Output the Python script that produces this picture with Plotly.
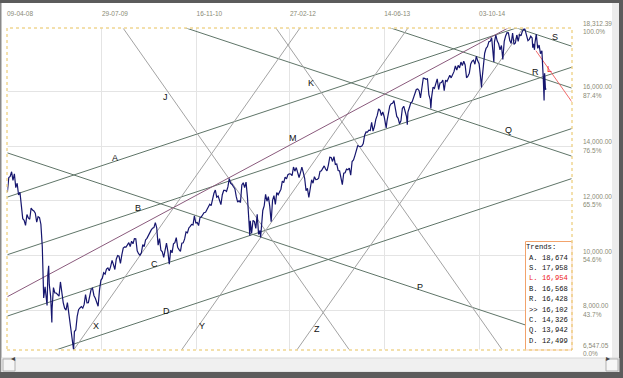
import plotly.graph_objects as go
import pandas as pd

# ---------------- data (Dow Jones closes) ----------------
block_starts = ['2008-04-11', '2009-01-02', '2010-01-01', '2011-01-07',
                '2012-01-06', '2013-01-04', '2014-01-03', '2015-01-02']
close_2008 = [12325, 12849, 12891, 13058, 12745, 12986, 12480, 12638, 12210, 12308, 11843, 11346,
              11288, 11100, 11496, 11370, 11326, 11734, 11659, 11628, 11543, 11220, 11421, 11388,
              11143, 10325, 8451, 8852, 8378, 9325, 8943, 8497, 8046, 8829, 8635, 8629, 8579, 8515]
close_2009 = [9034, 8599, 8281, 8077, 8001, 8280, 7850, 7366, 7063, 6627, 7224, 7279, 7776,
              8018, 8083, 8131, 8076, 8212, 8575, 8268, 8277, 8500, 8764, 8799, 8539, 8438,
              8280, 8146, 8743, 9093, 9171, 9370, 9321, 9505, 9544, 9441, 9605, 9820, 9665,
              9487, 9865, 9996, 9972, 9712, 10023, 10270, 10318, 10309, 10388, 10471, 10329, 10520]
close_2010 = [10428, 10618, 10610, 10172, 10067, 10012, 10099, 10402, 10325, 10567, 10625, 10742,
              10851, 10927, 10997, 11019, 11204, 11009, 10380, 10620, 10193, 10137, 9932, 10212,
              10450, 10144, 9686, 10198, 10098, 10424, 10466, 10653, 10303, 10214, 10150, 10448,
              10462, 10607, 10860, 10829, 11006, 11063, 11133, 11118, 11445, 11193, 11204, 11092,
              11382, 11410, 11492, 11573, 11578]
close_2011 = [11675, 11787, 11872, 11824, 12092, 12273, 12391, 12130, 12170, 12044, 11859, 12221,
              12377, 12380, 12342, 12506, 12811, 12638, 12596, 12512, 12441, 12151, 11952, 12004,
              11934, 12582, 12658, 12480, 12681, 12143, 11445, 11269, 10817, 11285, 11240, 10993,
              11509, 10772, 10913, 11103, 11645, 11809, 12231, 11983, 12153, 11796, 11231, 12019,
              12184, 11867, 12295, 12218]
close_2012 = [12360, 12422, 12720, 12660, 12862, 12801, 12950, 12983, 12978, 12922, 13233, 13081,
              13212, 13060, 12850, 13029, 13228, 13038, 12821, 12369, 12454, 12119, 12554, 12767,
              12640, 12880, 12772, 12777, 12822, 13075, 13096, 13207, 13275, 13158, 13090, 13306,
              13593, 13579, 13437, 13610, 13328, 13343, 13107, 13093, 12815, 12588, 13010, 13025,
              13155, 13135, 13190, 12938]
close_2013 = [13435, 13488, 13650, 13896, 14010, 13993, 13982, 14000, 14090, 14397, 14515, 14512,
              14579, 14565, 14865, 14547, 14712, 14974, 15118, 15354, 15303, 15116, 15248, 15071,
              14800, 14910, 15136, 15465, 15544, 15559, 15659, 15425, 15081, 15010, 14810, 14922,
              15376, 15452, 15258, 15073, 15237, 15400, 15570, 15615, 15762, 15962, 16065, 16086,
              16020, 15755, 16221, 16479]
close_2014 = [16470, 16437, 16458, 15880, 15699, 15794, 16154, 16104, 16322, 16453, 16065, 16303,
              16323, 16413, 16027, 16409, 16361, 16513, 16583, 16491, 16606, 16717, 16924, 16776,
              16948, 16852, 17068, 16944, 17100, 16961, 16493, 16554, 16663, 17001, 17098, 17138,
              16988, 17280, 17113, 17009, 16544, 16380, 16805, 17391, 17573, 17634, 17810, 17828,
              17958, 17281, 17805, 18053]
close_2015 = [17833, 17737, 17512, 17672, 17165, 17825, 18019, 18140, 18133, 17856, 17749, 18128,
              17713, 17763, 18057, 17826, 18080, 18024, 18191, 18272, 18232, 18011, 17849, 17899,
              18015, 17947, 17730, 17760, 18086, 17568, 17690, 17373, 17477, 16460, 16643, 16102]
extra_dates = ['2008-04-09', '2008-10-27', '2008-11-04', '2008-11-20', '2009-03-09',
               '2011-08-10', '2011-10-03', '2013-06-24', '2013-10-08', '2014-02-03',
               '2014-10-15', '2014-12-16', '2015-05-19', '2015-06-29', '2015-07-08',
               '2015-08-24', '2015-08-25', '2015-08-27', '2015-09-01']
extra_close = [12527, 8175, 9625, 7552, 6547.05,
               10719, 10655, 14660, 14776, 15373,
               16142, 17068, 18312.39, 17596, 17515,
               15871, 15666, 16654, 16058]

x_tick_dates = ['2008-04-09', '2009-07-29', '2010-11-16', '2012-02-27', '2013-06-14', '2014-10-03']
x_tick_labels = ['09-04-08', '29-07-09', '16-11-10', '27-02-12', '14-06-13', '03-10-14']
y_tick_values = [6547.05, 8000, 10000, 12000, 14000, 16000, 18312.39]
y_tick_percent = ['0.0%', '43.7%', '54.6%', '65.5%', '76.5%', '87.4%', '100.0%']

trend_names = ['A', 'S', 'L', 'B', 'R', '>>', 'C', 'Q', 'D']
trend_values = [18674, 17958, 16954, 16568, 16428, 16102, 14326, 13942, 12499]

# trend lines: anchor date, anchor value, change per calendar day, first date drawn
line_names = ['A', 'B', 'C', 'D', 'S', 'R', 'Q', 'P', 'L', 'J', 'K', 'X', 'Y', 'Z', 'M']
line_anchor_date = ['2015-09-04', '2015-09-04', '2015-09-04', '2015-09-04', '2015-09-04',
                    '2015-09-04', '2015-09-04', '2008-04-09', '2015-09-04', '2009-11-12',
                    '2011-12-19', '2009-03-09', '2011-10-03', '2014-10-15', '2008-04-09']
line_anchor_value = [18674, 16568, 14326, 12499, 17958, 16428, 13942, 13754, 16954, 18312,
                     18312, 6547.05, 10655, 16142, 8487]
line_slope = [2.42, 2.42, 2.42, 2.42, -2.42, -2.42, -2.42, -2.42, -10.36, -10.36,
              -10.36, 10.36, 10.36, 10.36, 3.91]
line_start = ['2008-04-09'] * 8 + ['2015-07-15'] + ['2008-04-09'] * 6

# label anchors (date, value) for the letters written on the chart
label_text = ['A', 'B', 'C', 'D', 'J', 'K', 'M', 'P', 'Q', 'R', 'S', 'L', 'X', 'Y', 'Z']
label_date = ['2009-10-03', '2010-01-27', '2010-04-21', '2010-06-19', '2010-06-14', '2012-06-10',
              '2012-03-12', '2013-12-11', '2015-02-27', '2015-07-15', '2015-10-19', '2015-09-19',
              '2009-06-28', '2010-12-15', '2012-07-10']
label_value = [13560, 11731, 9683, 7974, 15792, 16304, 14292, 8863, 14596, 16692, 17987, 16801,
               7437, 7437, 7316]

x_range = ['2008-04-09', '2016-01-12']
y_range = [6547.05, 18312.39]

# ---------------- build series ----------------
dates, closes = [], []
for start, vals in zip(block_starts, [close_2008, close_2009, close_2010, close_2011,
                                      close_2012, close_2013, close_2014, close_2015]):
    dates += list(pd.date_range(start, periods=len(vals), freq='7D'))
    closes += vals
dates += [pd.Timestamp(d) for d in extra_dates]
closes += extra_close
series = pd.Series(closes, index=dates).sort_index()
series = series[~series.index.duplicated(keep='last')]

# ---------------- styles ----------------
W, H = 623, 378
L_M, R_M, T_M, B_M = 7, 51, 28, 28
PW, PH = W - L_M - R_M, H - T_M - B_M
AXIS_FONT = dict(family='Liberation Sans Narrow, Arial Narrow, Liberation Sans, Arial', size=6.5,
                 color='#8a8a76')
CHANNEL = '#5f7568'
STEEP = '#a3a3a3'
line_color = {'A': CHANNEL, 'B': CHANNEL, 'C': CHANNEL, 'D': CHANNEL, 'S': CHANNEL, 'R': CHANNEL,
              'Q': CHANNEL, 'P': CHANNEL, 'L': '#f06a6a', 'J': STEEP, 'K': STEEP, 'X': STEEP,
              'Y': STEEP, 'Z': STEEP, 'M': '#8a5a7c'}


def px(x):
    return (x - L_M) / PW


def py(y):
    return (H - B_M - y) / PH


fig = go.Figure()

x_end = pd.Timestamp(x_range[1])
for name, ad, av, sl, st in zip(line_names, line_anchor_date, line_anchor_value, line_slope, line_start):
    ad = pd.Timestamp(ad)
    x0 = pd.Timestamp(st)
    ys = [av + sl * (x0 - ad).days, av + sl * (x_end - ad).days]
    fig.add_trace(go.Scatter(x=[x0, x_end], y=ys, mode='lines',
                             line=dict(color=line_color[name], width=1), hoverinfo='skip'))

fig.add_trace(go.Scatter(x=series.index, y=series.values, mode='lines',
                         line=dict(color='#16166e', width=1.2), hoverinfo='skip'))

for t, d, v in zip(label_text, label_date, label_value):
    fig.add_annotation(x=d, y=v, text=t, showarrow=False, xanchor='center', yanchor='middle',
                       font=dict(family='Liberation Sans, Arial', size=9,
                                 color='#ee3333' if t == 'L' else '#111111'))

shapes = []
# legend box
shapes.append(dict(type='rect', xref='paper', yref='paper', x0=px(525.5), x1=px(572), y0=py(350),
                   y1=py(241.5), line=dict(color='#f2a36c', width=1), fillcolor='white', layer='above'))
# plot border: white underlay then dotted yellow
for col, dash in [('white', 'solid'), ('#e8c15a', 'dot')]:
    shapes.append(dict(type='rect', xref='paper', yref='paper', x0=0, x1=1, y0=0, y1=1,
                       line=dict(color=col, width=1, dash=dash), layer='above'))
# window frame
shapes += [
    dict(type='rect', xref='paper', yref='paper', x0=px(0), x1=px(623), y0=py(0), y1=py(3),
         fillcolor='#5c5c5c', line=dict(width=0), layer='above'),
    dict(type='rect', xref='paper', yref='paper', x0=px(0), x1=px(1.5), y0=py(3), y1=py(372),
         fillcolor='#8a8a8a', line=dict(width=0), layer='above'),
    dict(type='rect', xref='paper', yref='paper', x0=px(612), x1=px(619), y0=py(3), y1=py(358),
         fillcolor='#ececec', line=dict(width=0), layer='above'),
    dict(type='rect', xref='paper', yref='paper', x0=px(619), x1=px(623), y0=py(0), y1=py(378),
         fillcolor='#5c5c5c', line=dict(width=0), layer='above'),
    dict(type='rect', xref='paper', yref='paper', x0=px(1.5), x1=px(619), y0=py(358), y1=py(372),
         fillcolor='#f0f0f0', line=dict(color='#d8d8d8', width=1), layer='above'),
    dict(type='rect', xref='paper', yref='paper', x0=px(3), x1=px(15), y0=py(359), y1=py(371),
         fillcolor='#f6f6f6', line=dict(color='#b0b0b0', width=1), layer='above'),
    dict(type='rect', xref='paper', yref='paper', x0=px(606), x1=px(618), y0=py(359), y1=py(371),
         fillcolor='#f6f6f6', line=dict(color='#b0b0b0', width=1), layer='above'),
    dict(type='rect', xref='paper', yref='paper', x0=px(0), x1=px(623), y0=py(372), y1=py(378),
         fillcolor='#5c5c5c', line=dict(width=0), layer='above'),
]

# legend text
LEG_FONT = dict(family='Liberation Mono, Courier New, monospace', size=7.2)
fig.add_annotation(xref='paper', yref='paper', x=px(525), y=py(247), text='Trends:', showarrow=False,
                   xanchor='left', yanchor='middle', borderpad=0,
                   font=dict(color='#111111', **LEG_FONT))
for i, (n, v) in enumerate(zip(trend_names, trend_values)):
    label = (n if n == '>>' else n + '.') + ' ' + f'{v:,}'
    fig.add_annotation(xref='paper', yref='paper', x=px(528), y=py(257.7 + i * 10.37), text=label,
                       showarrow=False, xanchor='left', yanchor='middle', borderpad=0,
                       font=dict(color='#ee2222' if n == 'L' else '#111111', **LEG_FONT))
# scrollbar arrows
fig.add_annotation(xref='paper', yref='paper', x=px(9), y=py(365), text='◂', showarrow=False,
                   font=dict(size=8, color='#444444'))
fig.add_annotation(xref='paper', yref='paper', x=px(612), y=py(365), text='▸', showarrow=False,
                   font=dict(size=8, color='#444444'))

fig.update_layout(
    width=W, height=H, margin=dict(l=L_M, r=R_M, t=T_M, b=B_M, pad=0, autoexpand=False),
    paper_bgcolor='white', plot_bgcolor='white', showlegend=False, shapes=shapes,
    xaxis=dict(type='date', range=x_range, side='top', tickvals=x_tick_dates, ticktext=x_tick_labels,
               ticklabelposition='outside right', ticks='', ticklabelstandoff=10,
               showgrid=True, gridcolor='#e4e4e4', gridwidth=1, zeroline=False, showline=False,
               tickfont=AXIS_FONT, fixedrange=True, automargin=False),
    yaxis=dict(range=y_range, side='right', tickvals=y_tick_values,
               ticktext=[f'{v:,.2f}<br>{p}' for v, p in zip(y_tick_values, y_tick_percent)],
               ticks='', ticklabelstandoff=10, showgrid=True, gridcolor='#e4e4e4', gridwidth=1,
               zeroline=False, showline=False, tickfont=AXIS_FONT, fixedrange=True, automargin=False),
)

fig.write_html('out.html', config={'displayModeBar': False},
               post_script="document.body.style.margin='0';document.body.style.overflow='hidden';")
